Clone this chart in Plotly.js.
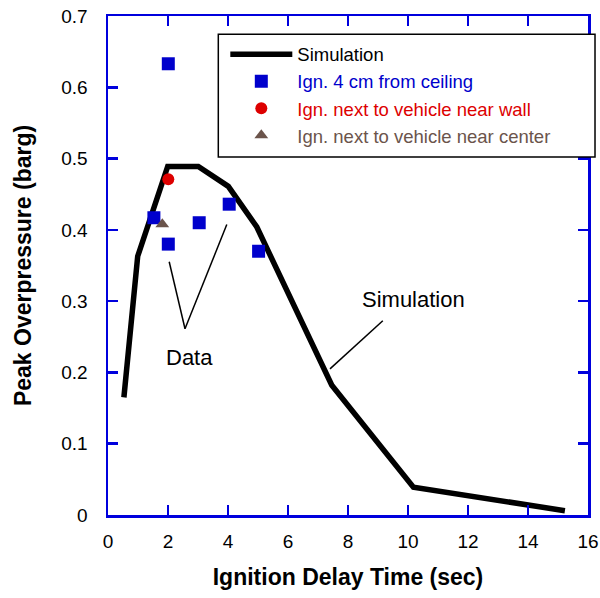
<!DOCTYPE html>
<html>
<head>
<meta charset="utf-8">
<script src="https://cdn.plot.ly/plotly-3.0.1.min.js"></script>
<style>html,body{margin:0;padding:0;background:#fff;}#chart{width:600px;height:598px;}</style>
</head>
<body>
<div id="chart"></div>
<script>
// Simulation curve
const simX = [0.53, 0.99, 1.99, 3.01, 4.01, 4.96, 7.46, 10.18, 15.23];
const simY = [0.165, 0.363, 0.489, 0.489, 0.461, 0.404, 0.182, 0.039, 0.006];
// Data: ignition 4 cm from ceiling
const ceilX = [2.01, 1.53, 2.01, 3.04, 4.04, 5.02];
const ceilY = [0.633, 0.417, 0.380, 0.410, 0.436, 0.370];
// Ignition next to vehicle near wall
const wallX = [2.01];
const wallY = [0.471];
// Ignition next to vehicle near center
const centerX = [1.81];
const centerY = [0.408];
// Axis ticks
const xTicks = [0, 2, 4, 6, 8, 10, 12, 14, 16];
const yTicks = [0, 0.1, 0.2, 0.3, 0.4, 0.5, 0.6, 0.7];
const yTickText = ['0', '0.1', '0.2', '0.3', '0.4', '0.5', '0.6', '0.7'];
// Series names
const names = ['Simulation', 'Ign. 4 cm from ceiling', 'Ign. next to vehicle near wall', 'Ign. next to vehicle near center'];

const FONT = 'Liberation Sans, Arial, sans-serif';
const AX = '#0000dd';

const traces = [
  {x: simX, y: simY, mode: 'lines', name: names[0],
   line: {color: '#000', width: 5.5}},
  {x: ceilX, y: ceilY, mode: 'markers', name: '<span style="color:#0000cc">' + names[1] + '</span>',
   marker: {symbol: 'square', size: 13, color: '#0000cc'}},
  {x: wallX, y: wallY, mode: 'markers', name: '<span style="color:#dd0000">' + names[2] + '</span>',
   marker: {symbol: 'circle', size: 12, color: '#dd0000'}},
  {x: centerX, y: centerY, mode: 'markers', name: '<span style="color:#6b544b">' + names[3] + '</span>',
   marker: {symbol: 'triangle-up', size: 12, color: '#6b544b'}}
];

const axisCommon = {
  showgrid: false, zeroline: false,
  showline: true, linecolor: AX, linewidth: 2.5,
  mirror: 'ticks', ticks: 'inside', ticklen: 10, tickwidth: 2.5, tickcolor: AX,
  tickfont: {family: FONT, size: 19, color: '#000'}
};

const layout = {
  width: 600, height: 598,
  margin: {l: 108, r: 12, t: 15.5, b: 82.5},
  paper_bgcolor: '#fff', plot_bgcolor: '#fff',
  font: {family: FONT, color: '#000'},
  xaxis: Object.assign({}, axisCommon, {
    range: [0, 16], tickvals: xTicks, ticktext: xTicks.map(String),
    ticklabelstandoff: 8,
    title: {text: '<b>Ignition Delay Time (sec)</b>', font: {family: FONT, size: 23, color: '#000'}, standoff: 18}
  }),
  yaxis: Object.assign({}, axisCommon, {
    range: [0, 0.7], tickvals: yTicks, ticktext: yTickText,
    ticklabelstandoff: 14,
    title: {text: '<b>Peak Overpressure (barg)</b>', font: {family: FONT, size: 23, color: '#000'}, standoff: 23}
  }),
  showlegend: true,
  legend: {
    x: 0.2444, y: 0.9606, xanchor: 'left', yanchor: 'top',
    bgcolor: 'rgba(0,0,0,0)', borderwidth: 0,
    itemwidth: 62,
    font: {family: FONT, size: 18.5, color: '#000'},
    tracegroupgap: 0
  },
  shapes: [
    {type: 'rect', xref: 'paper', yref: 'paper', x0: 0.2298, x1: 1.0146, y0: 0.7176, y1: 0.9636,
     line: {color: '#000', width: 1.5}, fillcolor: '#fff', layer: 'above'},
    {type: 'line', xref: 'x', yref: 'y', x0: 2.567, y0: 0.2613, x1: 2.04, y1: 0.3553, line: {color: '#000', width: 1.5}},
    {type: 'line', xref: 'x', yref: 'y', x0: 2.567, y0: 0.2613, x1: 3.96, y1: 0.4074, line: {color: '#000', width: 1.5}},
    {type: 'line', xref: 'x', yref: 'y', x0: 9.16, y0: 0.2724, x1: 7.4, y1: 0.205, line: {color: '#000', width: 1.5}}
  ],
  annotations: [
    {x: 2.7, y: 0.221, xref: 'x', yref: 'y', text: 'Data', showarrow: false,
     font: {family: FONT, size: 22, color: '#000'}},
    {x: 10.19, y: 0.3017, xref: 'x', yref: 'y', text: 'Simulation', showarrow: false,
     font: {family: FONT, size: 22, color: '#000'}}
  ]
};

Plotly.newPlot('chart', traces, layout, {displayModeBar: false, staticPlot: true});
</script>
</body>
</html>
